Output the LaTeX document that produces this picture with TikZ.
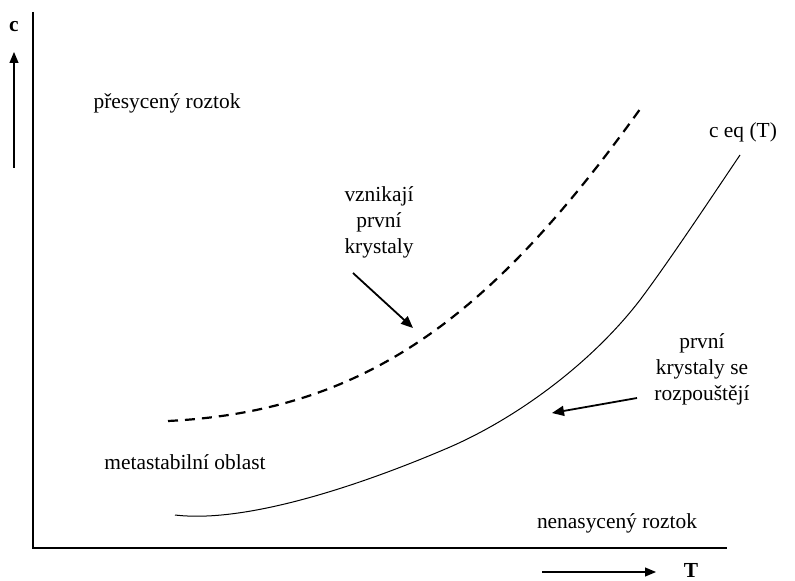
\documentclass[tikz,border=0pt]{standalone}
\usepackage{fontspec}
\setmainfont{Liberation Serif}
\usetikzlibrary{arrows.meta}
\begin{document}
\begin{tikzpicture}[x=1bp,y=-1bp,
  lbl/.style={font=\fontsize{21.5}{26}\selectfont,inner sep=0pt,align=center},
  axis/.style={line width=1.2bp},
  pointer/.style={line width=1.8bp,-{Triangle[length=12bp,width=10bp]}},
  dir/.style={line width=1.1bp,-{Triangle[length=11bp,width=9bp]}}]
\useasboundingbox (0,0) rectangle (795,581);
% axes
\coordinate (top) at (33,12);
\coordinate (origin) at (33,548);
\coordinate (right) at (727,548);
\draw[axis] (top) -- (origin) -- (right);
% direction arrows
\coordinate (cs) at (14,168);
\coordinate (ce) at (14,52);
\draw[dir] (cs) -- (ce);
\node[lbl,font=\fontsize{21.5}{26}\selectfont\bfseries] (c) at (14,27) {c};
\coordinate (ts) at (542,572);
\coordinate (te) at (656,572);
\draw[dir] (ts) -- (te);
\node[lbl,font=\fontsize{21.5}{26}\selectfont\bfseries] (T) at (691,570) {T};
% curves
\draw[line width=2.2bp,dash pattern=on 10bp off 7bp]
  (168,421) .. controls (368,411) and (493,315) .. (643,105);
\draw[line width=1bp]
  (175,515) .. controls (250,524) and (370,481) .. (443,450)
  .. controls (513,421) and (590,365) .. (640,300)
  .. controls (670,260) and (715,192) .. (740,155);
% labels
\node[lbl] (pres) at (167,103) {přesycený roztok};
\node[lbl] (vzn) at (379,222) {vznikají\\první\\krystaly};
\node[lbl] (ceq) at (743,132) {c eq (T)};
\node[lbl] (rozp) at (702,369) {první\\krystaly se\\rozpouštějí};
\node[lbl] (meta) at (185,462) {metastabilní oblast};
\node[lbl] (nenas) at (617,523) {nenasycený roztok};
% pointers
\coordinate (a1s) at (353,273);
\coordinate (a1e) at (413,328);
\draw[pointer] (a1s) -- (a1e);
\coordinate (a2s) at (637,398);
\coordinate (a2e) at (552,413);
\draw[pointer] (a2s) -- (a2e);
\end{tikzpicture}
\end{document}
